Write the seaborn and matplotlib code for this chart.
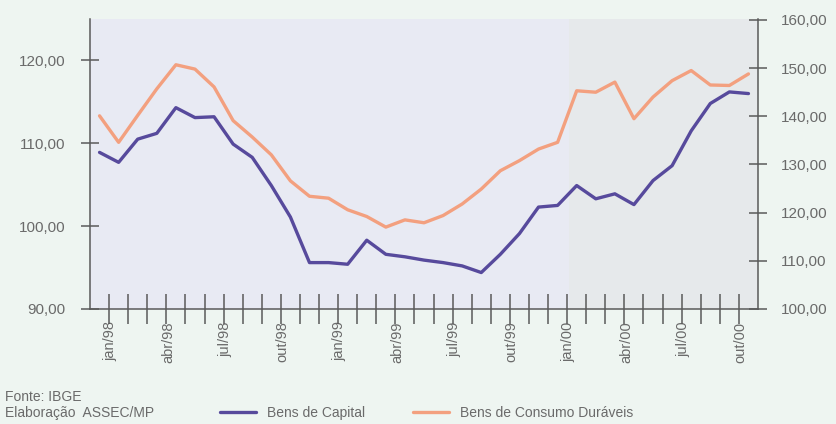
import pandas as pd
import seaborn as sns
import matplotlib.pyplot as plt
import matplotlib.transforms as mtransforms
from matplotlib.ticker import FuncFormatter

# Monthly labels, dez/97 .. out/00
month_names = ['jan', 'fev', 'mar', 'abr', 'mai', 'jun', 'jul', 'ago', 'set', 'out', 'nov', 'dez']
months = ['dez/97'] + [f'{m}/{y}' for y in ['98', '99'] for m in month_names] + [f'{m}/00' for m in month_names[:10]]

# Bens de Capital (left axis)
capital = [108.9, 107.7, 110.5, 111.2, 114.3, 113.1, 113.2, 109.9, 108.3, 104.9,
           101.1, 95.6, 95.6, 95.4, 98.3, 96.6, 96.3, 95.9, 95.6, 95.2,
           94.4, 96.6, 99.1, 102.3, 102.5, 104.9, 103.3, 103.9, 102.6, 105.5,
           107.3, 111.5, 114.8, 116.2, 116.0]

# Bens de Consumo Duráveis (right axis)
duraveis = [140.1, 134.6, 140.2, 145.7, 150.7, 149.8, 146.1, 139.1, 135.7, 132.0,
            126.6, 123.4, 123.0, 120.6, 119.2, 117.0, 118.5, 117.9, 119.4, 121.8,
            124.9, 128.7, 130.8, 133.2, 134.6, 145.3, 145.0, 147.1, 139.5, 144.0,
            147.4, 149.5, 146.5, 146.4, 148.8]

left_ticks = [90, 100, 110, 120]
right_ticks = [100, 110, 120, 130, 140, 150, 160]

df = pd.DataFrame({'mes': months, 'pos': range(len(months)),
                   'capital': capital, 'duraveis': duraveis})

sns.set_style('ticks')
plt.rcParams['font.family'] = ['Liberation Sans', 'DejaVu Sans']

purple = '#574a9c'
orange = '#f3a07f'
text_col = '#6a6a6a'
axis_col = '#5a5a5a'

fig = plt.figure(figsize=(8.37, 4.24), dpi=100, facecolor='#eef5f1')
ax = fig.add_axes([0.10753, 0.27123, 0.79809, 0.68396])
ax.set_facecolor('#e8eaf3')
ax.axvspan(24.6, 34.5, color='#e6e9eb', lw=0, zorder=0)

sns.lineplot(data=df, x='pos', y='capital', ax=ax, color=purple, lw=2.4, label='Bens de Capital')
ax2 = ax.twinx()
sns.lineplot(data=df, x='pos', y='duraveis', ax=ax2, color=orange, lw=2.4, label='Bens de Consumo Duráveis')

h1, l1 = ax.get_legend_handles_labels()
h2, l2 = ax2.get_legend_handles_labels()
ax.get_legend().remove()
ax2.get_legend().remove()

ax.set_xlim(-0.5, 34.5)
ax.set_ylim(90, 125.0)
ax2.set_ylim(100, 160.2)
ax.set_xlabel('')
ax.set_ylabel('')
ax2.set_ylabel('')

fmt = FuncFormatter(lambda v, _: f'{v:.2f}'.replace('.', ','))
ax.set_yticks(left_ticks)
ax.yaxis.set_major_formatter(fmt)
ax2.set_yticks(right_ticks)
ax2.yaxis.set_major_formatter(fmt)

# x: labels every 3 months, small ticks between months
ax.set_xticks(list(range(1, len(months), 3)))
ax.set_xticklabels(months[1::3], rotation=90)
ax.set_xticks([i + 0.5 for i in range(len(months) - 1)], minor=True)
ax.tick_params(axis='x', which='major', length=0, pad=9, labelsize=10.5, labelcolor=text_col)
ax.tick_params(axis='x', which='minor', direction='inout', length=22, width=1.1, color=axis_col)
ax.tick_params(axis='y', direction='inout', length=13, width=1.1, color=axis_col,
               pad=11, labelsize=11, labelcolor=text_col)
ax2.tick_params(axis='y', direction='inout', length=13, width=1.1, color=axis_col,
                pad=10, labelsize=11, labelcolor=text_col)

shift = mtransforms.ScaledTranslation(-8 / 100, 0, fig.dpi_scale_trans)
for lab in ax.get_xticklabels():
    lab.set_transform(lab.get_transform() + shift)

for a in (ax, ax2):
    for s in a.spines.values():
        s.set_color(axis_col)
        s.set_linewidth(1.1)
    a.spines['top'].set_visible(False)
ax.spines['right'].set_visible(False)
ax2.spines['left'].set_visible(False)
ax2.spines['bottom'].set_visible(False)

fig.text(0.006, 1 - 397 / 424, 'Fonte: IBGE', fontsize=10, color=text_col, va='center')
fig.text(0.006, 1 - 413 / 424, 'Elaboração  ASSEC/MP', fontsize=10, color=text_col, va='center')
fig.legend(h1 + h2, l1 + l2, loc='center left', bbox_to_anchor=(213 / 837, 1 - 413 / 424),
           ncol=2, frameon=False, fontsize=10, labelcolor=text_col, borderpad=0,
           handlelength=2.6, handletextpad=0.8, columnspacing=3.4)

fig.savefig('out.png', dpi=100, facecolor=fig.get_facecolor())
